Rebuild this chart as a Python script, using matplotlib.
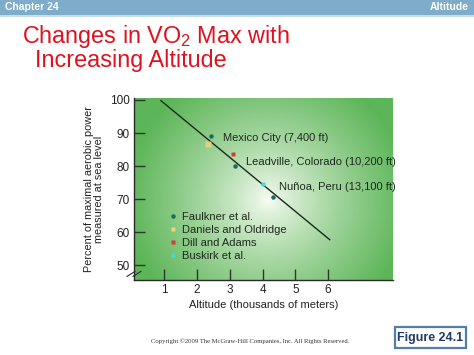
import numpy as np
import matplotlib
matplotlib.use("Agg")
import matplotlib.pyplot as plt
from matplotlib.lines import Line2D
from matplotlib.patches import Rectangle

plt.rcParams['font.family'] = ['Liberation Sans', 'DejaVu Sans']
plt.rcParams['mathtext.default'] = 'regular'

# ---- data ----
faulkner_alt = [2.42, 3.16, 4.32]
faulkner_pct = [89.1, 80.1, 70.5]
daniels_alt = [2.33]
daniels_pct = [86.6]
dill_alt = [3.11]
dill_pct = [83.5]
buskirk_alt = [4.02]
buskirk_pct = [74.5]
fit_alt = [0.9, 6.05]
fit_pct = [99.8, 57.7]
x_ticks = [1, 2, 3, 4, 5, 6]
y_ticks = [50, 60, 70, 80, 90, 100]
city_labels = ["Mexico City (7,400 ft)", "Leadville, Colorado (10,200 ft)", "Nuñoa, Peru (13,100 ft)"]
city_alt = [2.8, 3.5, 4.5]
city_pct = [88.5, 81.2, 73.6]
series_names = ["Faulkner et al.", "Daniels and Oldridge", "Dill and Adams", "Buskirk et al."]

W, H = 474, 355
fig = plt.figure(figsize=(W / 100, H / 100), dpi=100)
fig.patch.set_facecolor('white')

# header bar
fig.patches.append(Rectangle((0, 1 - 15 / H), 1, 15 / H, transform=fig.transFigure,
                             facecolor='#7eacc9', edgecolor='none', zorder=0))
fig.patches.append(Rectangle((0, 1 - 17 / H), 1, 2 / H, transform=fig.transFigure,
                             facecolor='#c9dde9', edgecolor='none', zorder=0))
fig.text(5 / W, 1 - 7.5 / H, "Chapter 24", color='white', fontsize=7.5, fontweight='bold',
         va='center', ha='left')
fig.text(1 - 5 / W, 1 - 7.5 / H, "Altitude", color='white', fontsize=7.5, fontweight='bold',
         va='center', ha='right')

# title
red = '#e0101e'
fig.text(22 / W, 1 - 37 / H, "Changes in VO$_2$ Max with", color=red, fontsize=16.8,
         va='center', ha='left')
fig.text(35 / W, 1 - 61 / H, "Increasing Altitude", color=red, fontsize=16.8,
         va='center', ha='left')

# axes
ax = fig.add_axes([134 / W, 1 - 280 / H, (393 - 134) / W, (280 - 98) / H])
xlim = (0.08, 7.98)
ylim = (45.5, 100.6)
ax.set_xlim(*xlim)
ax.set_ylim(*ylim)

# radial green gradient background
nx, ny = 400, 300
gx = np.linspace(0, 1, nx)
gy = np.linspace(0, 1, ny)
GX, GY = np.meshgrid(gx, gy)
cx, cy = (268 - 134) / 259, (280 - 200) / 182
r = np.sqrt(((GX - cx) / 0.55) ** 2 + ((GY - cy) / 0.75) ** 2)
t = np.clip(r, 0, 1) ** 0.8
outer = np.array([92, 181, 88]) / 255
inner = np.array([250, 253, 245]) / 255
img = inner[None, None, :] * (1 - t[..., None]) + outer[None, None, :] * t[..., None]
ax.imshow(img, extent=(xlim[0], xlim[1], ylim[0], ylim[1]), origin='lower',
          aspect='auto', zorder=0, interpolation='bilinear')

for s in ['top', 'right']:
    ax.spines[s].set_visible(False)
for s in ['left', 'bottom']:
    ax.spines[s].set_color('#2a2a2a')
    ax.spines[s].set_linewidth(1.0)

ax.set_xticks(x_ticks)
ax.set_yticks(y_ticks)
ax.tick_params(axis='both', direction='in', length=8, width=1.0, color='#2a3a2a',
               labelsize=8.5, labelcolor='#222222')
ax.tick_params(axis='x', pad=3)
ax.tick_params(axis='y', pad=3)

ax.set_xlabel("Altitude (thousands of meters)", fontsize=8, color='#222222', labelpad=3)
ax.set_ylabel("Percent of maximal aerobic power\nmeasured at sea level", fontsize=7.8,
              color='#222222', labelpad=4, linespacing=1.0)

# fit line
ax.plot(fit_alt, fit_pct, color='#1a2a1a', lw=1.0, zorder=3)

# data points
ax.plot(daniels_alt, daniels_pct, 's', color='#f2d27a', ms=4.5, mec='none', alpha=0.85, zorder=4)
ax.plot(dill_alt, dill_pct, 's', color='#d83a3a', ms=3.5, mec='none', zorder=4)
ax.plot(buskirk_alt, buskirk_pct, 's', color='#48d6d6', ms=3.5, mec='none', zorder=4)
ax.plot(faulkner_alt, faulkner_pct, 'o', color='#1d6a58', ms=3.2, mec='none', zorder=5)

for lbl, xa, yp in zip(city_labels, city_alt, city_pct):
    ax.text(xa, yp, lbl, fontsize=8, color='#1e2a1e', va='center', ha='left', zorder=6)

handles = [
    Line2D([], [], ls='none', marker='o', color='#1d6a58', ms=3.2, mec='none'),
    Line2D([], [], ls='none', marker='s', color='#f2d27a', ms=3.5, mec='none'),
    Line2D([], [], ls='none', marker='s', color='#d83a3a', ms=3.5, mec='none'),
    Line2D([], [], ls='none', marker='s', color='#48d6d6', ms=3.5, mec='none'),
]
leg = ax.legend(handles, series_names, loc='upper left',
                bbox_to_anchor=((169 - 134) / 259, (280 - 212) / 182),
                frameon=False, fontsize=8, handlelength=0.8, handletextpad=0.4,
                labelspacing=0.28, borderpad=0, borderaxespad=0)
for txt in leg.get_texts():
    txt.set_color('#1e2a1e')

# axis break mark
for dx in (-1.5, 1.5):
    ax.plot([xlim[0] - 0.12 + dx * 0.06, xlim[0] + 0.12 + dx * 0.06], [46.6, 48.1],
            color='#2a2a2a', lw=0.8, clip_on=False, zorder=7)

# copyright
fig.text(250 / W, 1 - 341 / H,
         "Copyright \u00a92009 The McGraw-Hill Companies, Inc. All Rights Reserved.",
         fontsize=4.8, family=['Liberation Serif', 'DejaVu Serif'], color='#333333',
         ha='center', va='center')

# figure box
fig.patches.append(Rectangle((395 / W, 1 - 348 / H), 71 / W, 21 / H, transform=fig.transFigure,
                             facecolor='white', edgecolor='#4f7fa6', lw=1.6, zorder=2))
fig.text(430.5 / W, 1 - 337.5 / H, "Figure 24.1", fontsize=9, fontweight='bold',
         color='#1f3a66', ha='center', va='center', zorder=3)

fig.savefig("out.png", dpi=100)
